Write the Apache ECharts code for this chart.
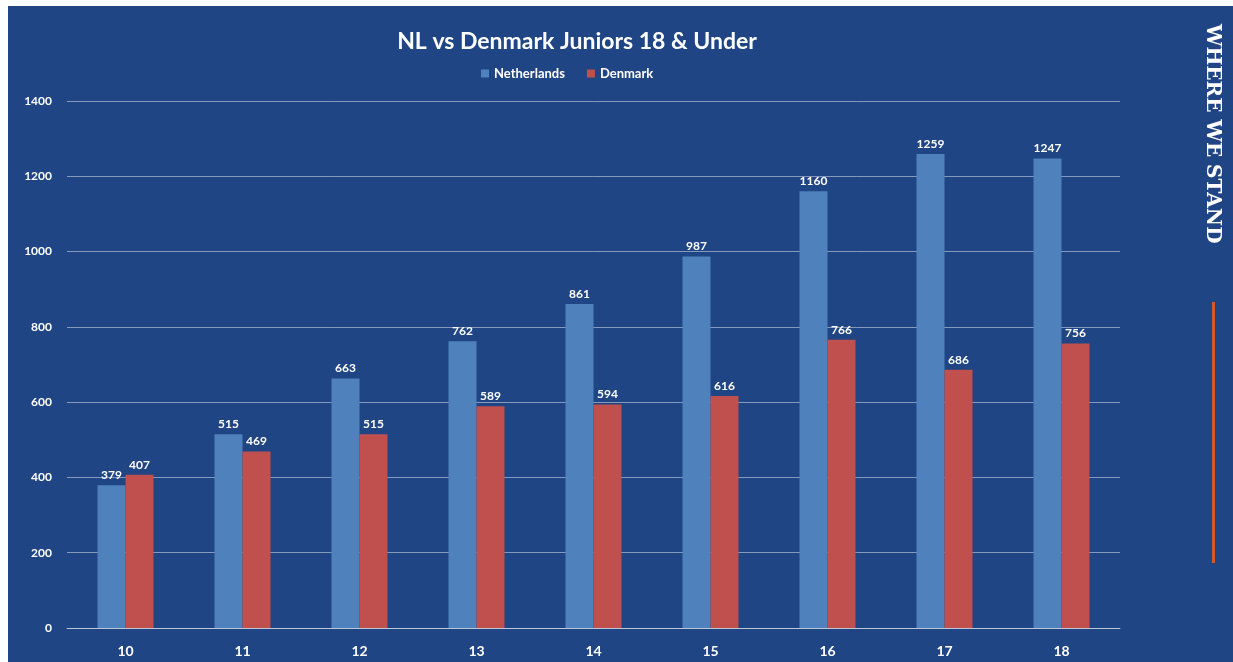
<!DOCTYPE html>
<html>
<head>
<meta charset="utf-8">
<script src="https://cdn.jsdelivr.net/npm/echarts@6/dist/echarts.min.js"></script>
<style>
  html, body { margin: 0; padding: 0; background: #fff; }
  #chart { position: absolute; left: 8px; top: 6px; width: 1225px; height: 656px; }
</style>
</head>
<body>
<div id="chart"></div>
<script>
// ages and player counts
const ages = ['10', '11', '12', '13', '14', '15', '16', '17', '18']
const netherlands = [379, 515, 663, 762, 861, 987, 1160, 1259, 1247]
const denmark = [407, 469, 515, 589, 594, 616, 766, 686, 756]
const yTicks = { min: 0, max: 1400, interval: 200 }

const font = 'Lato, "Open Sans", sans-serif'

const chart = echarts.init(document.getElementById('chart'))

const labelStyle = {
  show: true,
  position: 'top',
  color: '#fff',
  fontWeight: 'bold',
  fontSize: 12,
  fontFamily: font,
  distance: 4
}

chart.setOption({
  backgroundColor: '#1F4584',
  animation: false,
  title: {
    text: 'NL vs Denmark Juniors 18 & Under',
    left: 564,
    top: 19,
    textAlign: 'center',
    textStyle: { color: '#fff', fontSize: 23, fontWeight: 'bold', fontFamily: font }
  },
  legend: {
    data: ['Netherlands', 'Denmark'],
    left: 468,
    top: 56,
    itemWidth: 8,
    itemHeight: 8,
    itemGap: 22,
    icon: 'rect',
    textStyle: { color: '#fff', fontSize: 13, fontWeight: 'bold', fontFamily: font }
  },
  grid: { left: 59, right: 113, top: 95, bottom: 34 },
  xAxis: {
    type: 'category',
    data: ages,
    axisLine: { lineStyle: { color: 'rgba(255,255,255,0.45)' } },
    axisTick: { show: false },
    axisLabel: { color: '#fff', fontWeight: 'bold', fontSize: 14, fontFamily: font, margin: 16 }
  },
  yAxis: {
    type: 'value',
    min: yTicks.min,
    max: yTicks.max,
    interval: yTicks.interval,
    axisLine: { show: false },
    axisTick: { show: false },
    splitLine: { lineStyle: { color: 'rgba(255,255,255,0.45)', width: 1 } },
    axisLabel: {
      color: '#fff', fontWeight: 'bold', fontSize: 12, fontFamily: font, margin: 15,
      formatter: v => String(v)
    }
  },
  series: [
    {
      name: 'Netherlands',
      type: 'bar',
      data: netherlands,
      barWidth: 28,
      barGap: '0%',
      itemStyle: { color: '#4F81BD' },
      label: labelStyle
    },
    {
      name: 'Denmark',
      type: 'bar',
      data: denmark,
      barWidth: 28,
      barGap: '0%',
      itemStyle: { color: '#C0504D' },
      label: labelStyle
    }
  ],
  graphic: [
    {
      type: 'text',
      x: 1204,
      y: 18,
      rotation: -Math.PI / 2,
      style: {
        text: 'WHERE WE STAND',
        fill: '#fff',
        font: 'bold 20px "DejaVu Serif", "Liberation Serif", serif',
        textVerticalAlign: 'middle'
      }
    },
    {
      type: 'rect',
      shape: { x: 1204, y: 296, width: 3, height: 261 },
      style: { fill: '#D4592A' }
    }
  ]
})
</script>
</body>
</html>
